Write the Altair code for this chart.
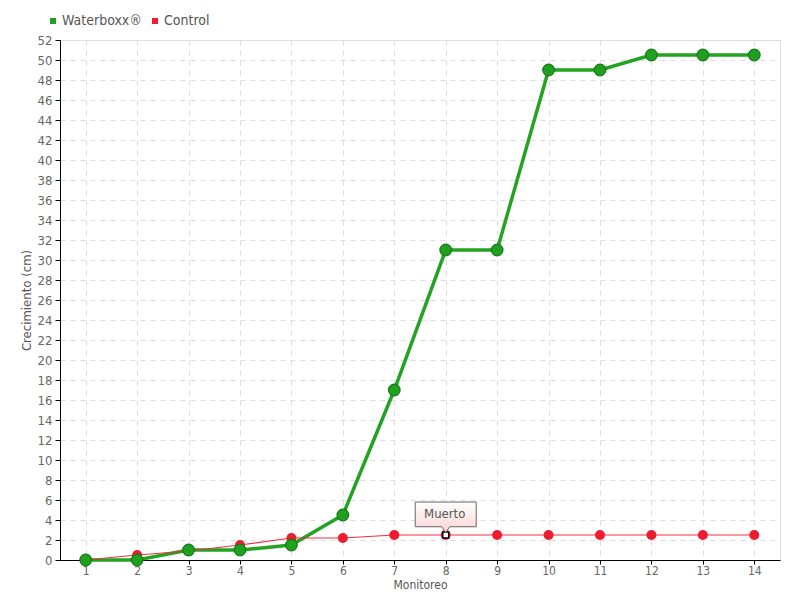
import altair as alt
import pandas as pd

monitoreo = list(range(1, 15))
waterboxx = [0, 0, 1, 1, 1.5, 4.5, 17, 31, 31, 49, 49, 50.5, 50.5, 50.5]
control = [0, 0.5, 0.9, 1.5, 2.2, 2.2, 2.5, 2.5, 2.5, 2.5, 2.5, 2.5, 2.5, 2.5]
series_names = ["Waterboxx®", "Control"]
series_colors = ["#1fa01f", "#ee1c2e"]
y_ticks = list(range(0, 53, 2))
annot_x = 8
annot_text = "Muerto"

FONT = "DejaVu Sans Condensed, Liberation Sans Narrow, DejaVu Sans, sans-serif"

df = pd.DataFrame({
    "Monitoreo": monitoreo * 2,
    "valor": waterboxx + control,
    "serie": [series_names[0]] * len(monitoreo) + [series_names[1]] * len(monitoreo),
})
ctrl = pd.DataFrame({"Monitoreo": monitoreo, "valor": control})
annot = ctrl[ctrl["Monitoreo"] == annot_x].assign(label=annot_text)

xs = alt.Scale(domain=[0.5, 14.5], nice=False, zero=False)
ys = alt.Scale(domain=[0, 52], nice=False)
color = alt.Color("serie:N", scale=alt.Scale(domain=series_names, range=series_colors),
                  legend=alt.Legend(orient="none", legendX=-14, legendY=-26, direction="horizontal",
                                    title=None, symbolType="square", symbolSize=36,
                                    labelFont=FONT, labelFontSize=14, labelColor="#555",
                                    columnPadding=6, labelOffset=2, symbolStrokeWidth=0))

X = alt.X("Monitoreo:Q", scale=xs,
          axis=alt.Axis(values=monitoreo, title="Monitoreo", format="d", grid=True,
                        gridDash=[5, 5], gridColor="#dddddd", domainColor="#000", tickColor="#000",
                        labelFont=FONT, labelFontSize=12, labelColor="#666", titleFont=FONT,
                        titleFontSize=12, titleColor="#555", titleFontWeight="normal",
                        titlePadding=3, labelPadding=1, tickSize=4, labelOverlap=False))
Y = alt.Y("valor:Q", scale=ys,
          axis=alt.Axis(values=y_ticks, title="Crecimiento (cm)", grid=True,
                        gridDash=[5, 5], gridColor="#dddddd", domainColor="#000", tickColor="#000",
                        labelFont=FONT, labelFontSize=13, labelColor="#666", titleFont=FONT,
                        titleFontSize=13, titleColor="#555", titleFontWeight="normal",
                        titlePadding=4, labelPadding=3, tickSize=5, labelOverlap=False))

base = alt.Chart(df)

green_line = base.transform_filter(alt.datum.serie == series_names[0]).mark_line(
    strokeWidth=3.5, color="#22a322").encode(x=X, y=Y)
green_shadow = base.transform_filter(alt.datum.serie == series_names[0]).mark_line(
    strokeWidth=1.2, color="#7fd07f").encode(x=X, y=Y)
red_line = base.transform_filter(alt.datum.serie == series_names[1]).mark_line(
    strokeWidth=1.2, color="#f03040").encode(x=X, y=Y)

green_pts = base.transform_filter(alt.datum.serie == series_names[0]).mark_point(
    filled=True, size=135, opacity=1, stroke="#157a15", strokeWidth=1.2).encode(x=X, y=Y, color=color)
red_pts = base.transform_filter(alt.datum.serie == series_names[1]).mark_point(
    filled=True, size=100, opacity=1).encode(x=X, y=Y, color=color)

hover_pt = alt.Chart(annot).mark_point(shape="square", size=36, filled=True, fill="white",
                                       stroke="#000", strokeWidth=1.5, opacity=1).encode(x=X, y=Y)

box_path = "M-1,-1.08 L1,-1.08 L1,-0.27 L0.13,-0.27 L0,-0.08 L-0.13,-0.27 L-1,-0.27 Z"
box = alt.Chart(annot).mark_point(
    shape=box_path, size=3721, filled=True, opacity=1, strokeWidth=1, stroke="#666",
    fill=alt.Gradient(gradient="linear", x1=0, y1=0, x2=0, y2=1,
                      stops=[alt.GradientStop(color="#ffffff", offset=0),
                             alt.GradientStop(color="#fbd3d3", offset=1)])).encode(x=X, y=Y)
box_text = alt.Chart(annot).mark_text(font=FONT, fontSize=13, color="#555", dy=-21, dx=-1).encode(
    x=X, y=Y, text="label:N")

chart = alt.layer(green_shadow, green_line, red_line, red_pts, green_pts, hover_pt, box, box_text).properties(
    width=720, height=520,
    autosize=alt.AutoSizeParams(type="none"),
    padding={"left": 52, "top": 32, "right": 12, "bottom": 32},
).configure_view(stroke=None).configure(background="white")

chart.save("out.html", embed_options={"renderer": "svg", "actions": False})
